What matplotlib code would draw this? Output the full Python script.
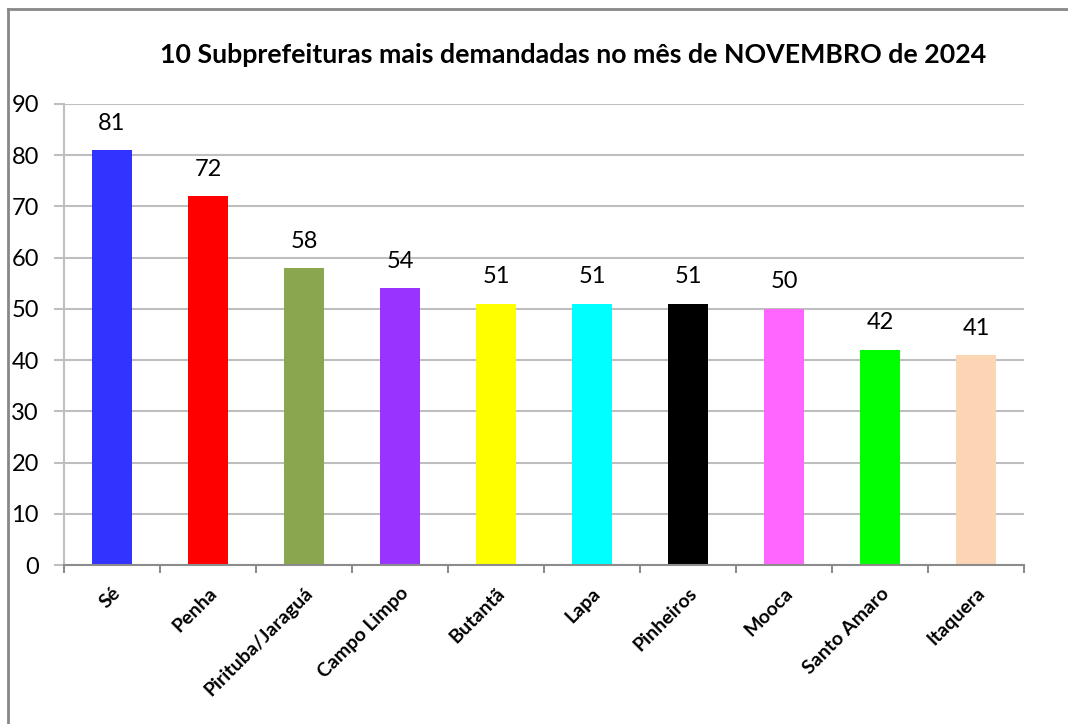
import numpy as np
import matplotlib
matplotlib.use("Agg")
from matplotlib import pyplot as plt
from matplotlib.lines import Line2D

plt.rcParams['font.family'] = ['Lato', 'DejaVu Sans']

categorias = ["Sé", "Penha", "Pirituba/Jaraguá", "Campo Limpo", "Butantã",
              "Lapa", "Pinheiros", "Mooca", "Santo Amaro", "Itaquera"]
valores = [81, 72, 58, 54, 51, 51, 51, 50, 42, 41]
cores = ["#3333FF", "#FF0000", "#8AA64E", "#9933FF", "#FFFF00",
         "#00FFFF", "#000000", "#FF66FF", "#00FF00", "#FCD5B5"]
titulo = "10 Subprefeituras mais demandadas no mês de NOVEMBRO de 2024"

fig = plt.figure(figsize=(10.68, 7.24), dpi=100, facecolor="w")
ax = fig.add_axes([0.0599, 0.2196, 0.8989, 0.6368])

x = np.arange(len(categorias))
ax.bar(x, valores, width=0.41, color=cores, zorder=3)
for xi, v in zip(x, valores):
    ax.text(xi, v + 3.2, str(v), ha="center", va="bottom", fontsize=17)

ax.set_xlim(-0.5, len(categorias) - 0.5)
ax.set_ylim(0, 90)
ax.set_yticks(range(0, 91, 10))
ax.tick_params(axis="y", labelsize=17, length=7, color="#BFBFBF", width=1.5, pad=11)
ax.grid(axis="y", color="#BFBFBF", linewidth=1.5, zorder=0)

# ticks between categories
ax.set_xticks(np.arange(-0.5, len(categorias), 1.0))
ax.set_xticklabels([])
ax.tick_params(axis="x", length=6, color="#8C8C8C", width=1.5)
ax.set_xticks(x, minor=True)
ax.set_xticklabels(categorias, minor=True, rotation=45, ha="right",
                   rotation_mode="anchor", fontsize=14, fontweight="bold")
ax.tick_params(axis="x", which="minor", length=0, pad=14)

for s in ["top", "right"]:
    ax.spines[s].set_visible(False)
ax.spines["left"].set_color("#BFBFBF")
ax.spines["left"].set_linewidth(1.5)
ax.spines["bottom"].set_color("#8C8C8C")
ax.spines["bottom"].set_linewidth(1.5)
ax.spines["bottom"].set_zorder(4)

fig.text(0.537, 0.924, titulo, ha="center", va="center", fontsize=19.3, fontweight="bold")

# moldura
fig.add_artist(Line2D([0.0075, 0.0075], [0, 0.9876], color="#888888", lw=2, transform=fig.transFigure))
fig.add_artist(Line2D([0.0075, 1], [0.9876, 0.9876], color="#888888", lw=2, transform=fig.transFigure))

fig.savefig("out.png", dpi=100, facecolor="w")
